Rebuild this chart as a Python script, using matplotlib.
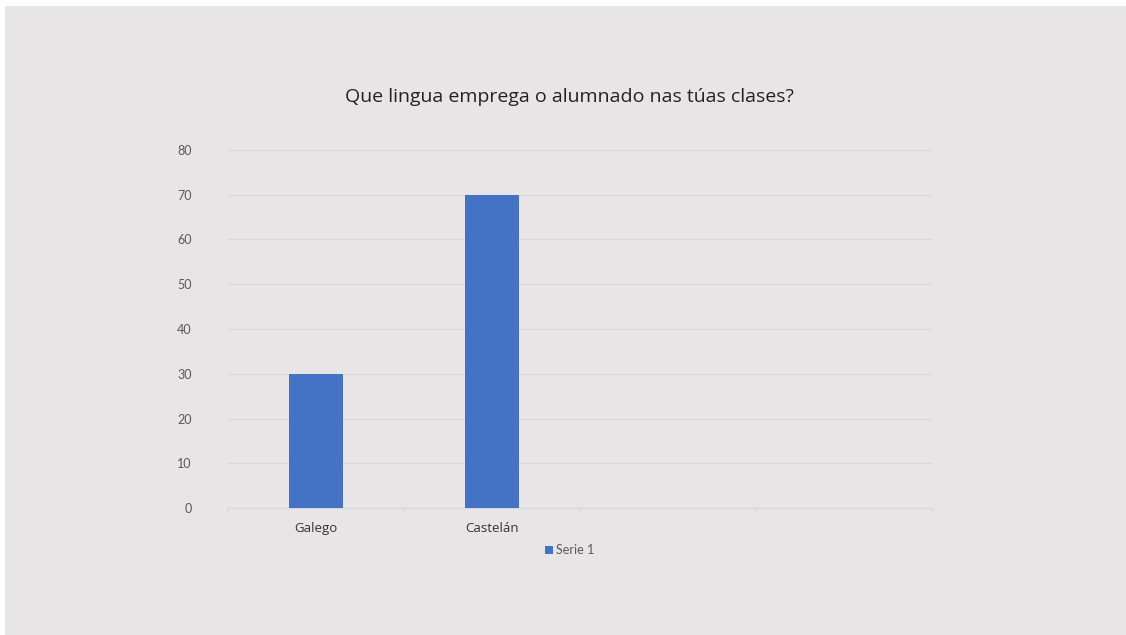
import matplotlib.pyplot as plt
from matplotlib.patches import Rectangle

categories = ['Galego', 'Castelán', '', '']
values = [30, 70, 0, 0]
yticks = [0, 10, 20, 30, 40, 50, 60, 70, 80]
title = 'Que lingua emprega o alumnado nas túas clases?'
series_name = 'Serie 1'

bg = '#e7e5e6'
bar_color = '#4472c4'
grid_color = '#d9d8d8'
text_grey = '#595959'

fig = plt.figure(figsize=(11.26, 6.35), dpi=100, facecolor='white')
# grey slide area (thin white strip at top and left)
fig.patches.append(Rectangle((5 / 1126, -0.02), 1.02, 1.02 - 6 / 635,
                             transform=fig.transFigure, facecolor=bg,
                             edgecolor='none', zorder=-10))

ax = fig.add_axes([228 / 1126, 1 - 508 / 635, (932 - 228) / 1126, (508 - 150) / 635])
ax.set_facecolor('none')

x = list(range(len(categories)))
ax.bar(x[:2], values[:2], width=0.31, color=bar_color, zorder=3, label=series_name)

ax.set_xlim(-0.5, len(categories) - 0.5)
ax.set_ylim(0, 80)
ax.set_yticks(yticks)
ax.set_yticklabels([str(v) for v in yticks], fontsize=9, color=text_grey, family='Lato')
ax.set_xticks(x)
ax.set_xticklabels(categories, fontsize=9.5, color='#333333', family='Open Sans')
ax.tick_params(axis='x', length=0, pad=10)
ax.tick_params(axis='y', length=0, pad=26)

ax.grid(axis='y', color=grid_color, linewidth=0.8, zorder=0)
for s in ['top', 'right', 'left']:
    ax.spines[s].set_visible(False)
ax.spines['bottom'].set_color(grid_color)
ax.spines['bottom'].set_linewidth(1)
# small category boundary ticks on the axis line
for b in [-0.5, 0.5, 1.5, 2.5, 3.5]:
    ax.plot([b, b], [0, -0.8], color=grid_color, linewidth=1, clip_on=False)

fig.text(569 / 1126, 1 - 97 / 635, title, ha='center', va='center',
         fontsize=14, color='#222222', family='Open Sans')

leg = fig.legend(loc='center', bbox_to_anchor=(570 / 1126, 1 - 550 / 635),
                 frameon=False, handlelength=0.6, handleheight=0.6,
                 handletextpad=0.3, prop={'family': 'Lato', 'size': 9})
for t in leg.get_texts():
    t.set_color(text_grey)

fig.savefig('out.png', dpi=100, facecolor='white')
